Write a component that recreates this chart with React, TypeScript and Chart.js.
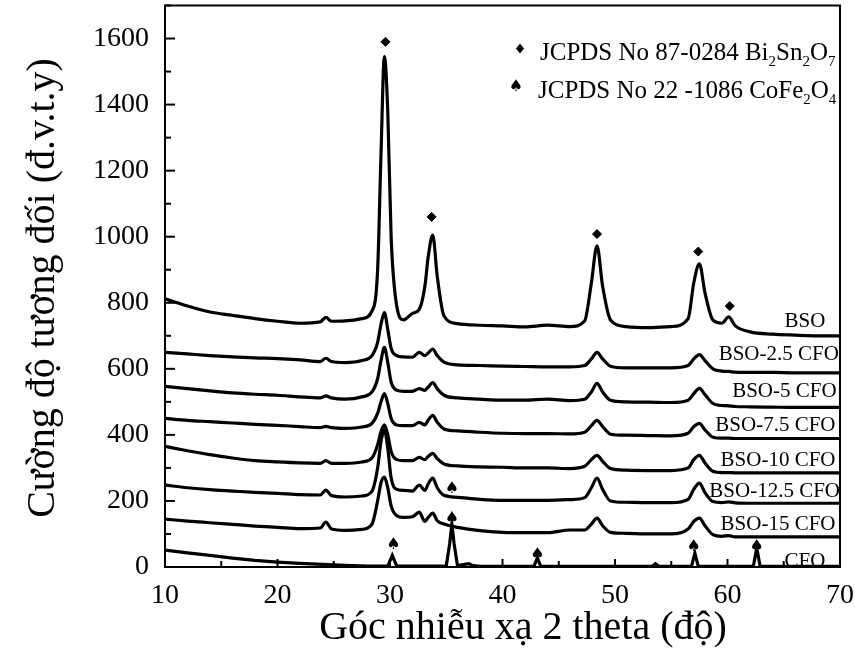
import React, { useEffect, useRef } from 'react';
import { Chart, registerables } from 'chart.js';

Chart.register(...registerables);

const FONT = "'Liberation Serif', 'Times New Roman', serif";

// shared 2-theta grid for the BSO-based patterns
const twoTheta = [10, 12, 14, 16, 18, 20, 22, 23.8, 24.3, 24.8, 26, 27.5, 28.4, 28.9, 29.2, 29.5, 29.8, 30.1, 30.6, 31.2, 32.0, 32.6, 33.1, 33.4, 33.8, 34.2, 34.8, 36, 38, 40, 42, 44, 46, 47.3, 47.9, 48.4, 48.9, 49.6, 51, 53, 55, 56.5, 57.0, 57.5, 58.0, 58.7, 59.5, 60.1, 60.7, 62, 64, 66, 68, 70];

const bso = [812, 790, 772, 762, 752, 744, 738, 742, 756, 744, 745, 752, 775, 900, 1250, 1545, 1380, 1000, 790, 748, 768, 780, 850, 940, 1005, 880, 760, 737, 732, 730, 727, 732, 728, 745, 860, 972, 850, 748, 728, 725, 728, 752, 860, 918, 830, 748, 738, 757, 730, 712, 705, 702, 700, 700];
const bso25 = [650, 645, 640, 636, 633, 631, 627, 622, 632, 622, 619, 625, 640, 680, 735, 770, 720, 662, 640, 636, 635, 650, 640, 648, 660, 640, 620, 612, 610, 608, 607, 606, 606, 610, 630, 650, 630, 608, 603, 603, 603, 610, 630, 643, 625, 600, 593, 592, 590, 589, 589, 588, 588, 588];
const bso5 = [547, 540, 533, 527, 523, 520, 515, 512, 518, 512, 508, 515, 530, 570, 625, 665, 620, 560, 535, 532, 532, 540, 535, 545, 558, 540, 520, 512, 508, 505, 505, 508, 504, 508, 530, 556, 530, 505, 500, 499, 498, 505, 525, 541, 522, 495, 489, 488, 486, 485, 484, 483, 483, 483];
const bso75 = [450, 444, 440, 436, 432, 429, 425, 422, 426, 422, 420, 424, 435, 465, 500, 525, 495, 450, 430, 428, 428, 438, 430, 445, 459, 438, 418, 412, 408, 405, 404, 404, 403, 408, 428, 444, 425, 402, 399, 398, 397, 405, 425, 435, 415, 393, 390, 390, 389, 389, 389, 389, 389, 389];
const bso10 = [365, 352, 340, 330, 322, 318, 315, 314, 322, 314, 314, 318, 330, 370, 410, 430, 400, 350, 325, 322, 322, 332, 325, 335, 344, 328, 312, 306, 303, 302, 300, 300, 298, 305, 325, 338, 320, 298, 293, 292, 292, 300, 325, 338, 315, 290, 286, 286, 285, 285, 285, 285, 285, 285];
const bso125 = [248, 240, 234, 230, 226, 223, 219, 218, 233, 216, 212, 215, 230, 300, 380, 415, 360, 270, 235, 232, 230, 248, 232, 252, 269, 240, 217, 211, 205, 202, 202, 202, 204, 210, 240, 269, 235, 200, 196, 195, 195, 205, 235, 254, 225, 198, 195, 197, 194, 193, 193, 193, 193, 193];
const bso15 = [145, 139, 134, 129, 124, 120, 116, 118, 136, 115, 111, 114, 130, 200, 255, 272, 240, 185, 155, 150, 152, 166, 138, 150, 163, 140, 130, 120, 110, 105, 104, 104, 112, 112, 130, 148, 125, 105, 102, 100, 100, 115, 138, 148, 125, 98, 93, 95, 91, 91, 91, 91, 91, 91];

// pure CoFe2O4 pattern
const cfoTheta = [10, 12, 14, 16, 18, 20, 22, 24, 26, 28, 29.8, 30.2, 30.6, 35.0, 35.3, 35.5, 35.7, 36.0, 37.0, 37.4, 38.0, 42.8, 43.1, 43.4, 53.3, 53.6, 53.9, 56.8, 57.1, 57.4, 62.3, 62.6, 62.9, 66, 70];
const cfo = [51, 43, 35, 27, 20, 15, 11, 8, 5, 3, 3, 35, 3, 3, 70, 130, 70, 4, 10, 4, 2, 2, 28, 2, 2, 10, 2, 2, 42, 2, 2, 58, 2, 2, 2];

const seriesNames = ['BSO', 'BSO-2.5 CFO', 'BSO-5 CFO', 'BSO-7.5 CFO', 'BSO-10 CFO', 'BSO-12.5 CFO', 'BSO-15 CFO', 'CFO'];
const labelRightX = [68.7, 69.9, 69.7, 69.6, 69.6, 70.0, 69.6, 68.7];
const labelY = [743, 643, 532, 429, 323, 230, 130, 18];

// phase markers
const bsoMarkX = [29.6, 33.7, 48.4, 57.4, 60.2];
const bsoMarkY = [1590, 1060, 1008, 955, 790];
const cfoMarkX = [30.3, 35.5, 35.5, 43.1, 57.0, 62.6];
const cfoMarkY = [66, 236, 145, 38, 62, 62];

const xTitle = 'Góc nhiễu xạ 2 theta (độ)';
const yTitle = 'Cường độ tương đối (đ.v.t.y)';
const legend1: [string, string][] = [['JCPDS No 87-0284 Bi', '2'], ['Sn', '2'], ['O', '7']];
const legend2: [string, string][] = [['JCPDS No 22 -1086 CoFe', '2'], ['O', '4']];

function drawRich(ctx: CanvasRenderingContext2D, x: number, y: number, parts: [string, string][], size: number) {
  let cx = x;
  ctx.textAlign = 'left';
  ctx.textBaseline = 'alphabetic';
  for (const [main, sub] of parts) {
    ctx.font = `${size}px ${FONT}`;
    ctx.fillText(main, cx, y);
    cx += ctx.measureText(main).width;
    if (sub) {
      ctx.font = `${Math.round(size * 0.6)}px ${FONT}`;
      ctx.fillText(sub, cx, y + size * 0.25);
      cx += ctx.measureText(sub).width;
    }
  }
}

const decor = {
  id: 'decor',
  afterDatasetsDraw(chart: any) {
    const { ctx, chartArea: a, scales } = chart;
    const x = scales.x;
    const y = scales.y;
    ctx.save();
    ctx.strokeStyle = '#000';
    ctx.fillStyle = '#000';
    ctx.lineWidth = 2;
    ctx.strokeRect(a.left, a.top, a.right - a.left, a.bottom - a.top);
    for (let v = 0; v <= 1700; v += 100) {
      const py = y.getPixelForValue(v);
      const len = v % 200 === 0 ? 10 : 6;
      ctx.beginPath();
      ctx.moveTo(a.left, py);
      ctx.lineTo(a.left + len, py);
      ctx.stroke();
    }
    for (let v = 10; v <= 70; v += 5) {
      const px = x.getPixelForValue(v);
      const len = v % 10 === 0 ? 8 : 6;
      ctx.beginPath();
      ctx.moveTo(px, a.bottom);
      ctx.lineTo(px, a.bottom - len);
      ctx.stroke();
    }
    // CFO (spade) markers
    ctx.font = "16px 'DejaVu Sans'";
    ctx.textAlign = 'center';
    ctx.textBaseline = 'middle';
    cfoMarkX.forEach((vx, i) => {
      ctx.fillText('\u2660', x.getPixelForValue(vx), y.getPixelForValue(cfoMarkY[i]));
    });
    // series labels
    ctx.font = `21px ${FONT}`;
    ctx.textAlign = 'right';
    ctx.textBaseline = 'middle';
    seriesNames.forEach((name, i) => {
      ctx.fillText(name, x.getPixelForValue(labelRightX[i]), y.getPixelForValue(labelY[i]));
    });
    // legend
    const lx = a.right - 320;
    ctx.beginPath();
    ctx.moveTo(lx, a.top + 38);
    ctx.lineTo(lx + 4, a.top + 43);
    ctx.lineTo(lx, a.top + 48);
    ctx.lineTo(lx - 4, a.top + 43);
    ctx.closePath();
    ctx.fill();
    drawRich(ctx, lx + 20, a.top + 54, legend1, 25);
    ctx.font = "16px 'DejaVu Sans'";
    ctx.textAlign = 'center';
    ctx.textBaseline = 'middle';
    ctx.fillText('\u2660', lx - 4, a.top + 81);
    drawRich(ctx, lx + 18, a.top + 92, legend2, 25);
    // axis titles
    ctx.font = `40px ${FONT}`;
    ctx.textAlign = 'center';
    ctx.textBaseline = 'alphabetic';
    ctx.fillText(xTitle, 523, 639);
    ctx.save();
    ctx.translate(54, 288);
    ctx.rotate(-Math.PI / 2);
    ctx.fillText(yTitle, 0, 0);
    ctx.restore();
    ctx.restore();
  },
};

export default function App() {
  const ref = useRef<HTMLCanvasElement>(null);
  useEffect(() => {
    if (!ref.current) return;
    const mk = (xs: number[], ys: number[]) => xs.map((t, i) => ({ x: t, y: ys[i] }));
    const bsoSeries = [bso, bso25, bso5, bso75, bso10, bso125, bso15];
    const lineDs = bsoSeries.map((ys, i) => ({
      type: 'line' as const,
      label: seriesNames[i],
      data: mk(twoTheta, ys),
      borderColor: '#000',
      borderWidth: 3.2,
      pointRadius: 0,
      cubicInterpolationMode: 'monotone' as const,
      fill: false,
    }));
    const chart = new Chart(ref.current, {
      type: 'line',
      data: {
        datasets: [
          ...lineDs,
          {
            type: 'line' as const,
            label: seriesNames[7],
            data: mk(cfoTheta, cfo),
            borderColor: '#000',
            borderWidth: 3.2,
            pointRadius: 0,
            tension: 0,
            fill: false,
          },
          {
            type: 'scatter' as const,
            label: 'Bi2Sn2O7',
            data: mk(bsoMarkX, bsoMarkY),
            pointStyle: 'rectRot',
            pointRadius: 4.5,
            backgroundColor: '#000',
            borderColor: '#000',
            showLine: false,
          } as any,
        ],
      },
      options: {
        responsive: false,
        animation: false,
        layout: { padding: { left: 0, right: 15, top: 4, bottom: 0 } },
        plugins: { legend: { display: false }, tooltip: { enabled: false } },
        scales: {
          x: {
            type: 'linear',
            min: 10,
            max: 70,
            ticks: { stepSize: 10, padding: 4, color: '#000', maxRotation: 0, font: { size: 28, family: FONT }, callback: (v: any) => String(v) },
            grid: { display: false },
            border: { display: false },
            afterFit: (s: any) => { s.height = 86; s.paddingLeft = 0; s.paddingRight = 0; },
          },
          y: {
            type: 'linear',
            min: 0,
            max: 1700,
            ticks: { stepSize: 200, includeBounds: false, padding: 8, color: '#000', font: { size: 28, family: FONT }, callback: (v: any) => String(v) },
            grid: { display: false },
            border: { display: false },
            afterFit: (s: any) => { s.width = 165; s.paddingTop = 0; s.paddingBottom = 0; },
          },
        },
      },
      plugins: [decor],
    });
    return () => chart.destroy();
  }, []);
  return (
    <div style={{ position: 'absolute', left: 0, top: 0, width: 855, height: 653, background: '#fff' }}>
      <canvas ref={ref} width={855} height={653} style={{ display: 'block' }} />
    </div>
  );
}
